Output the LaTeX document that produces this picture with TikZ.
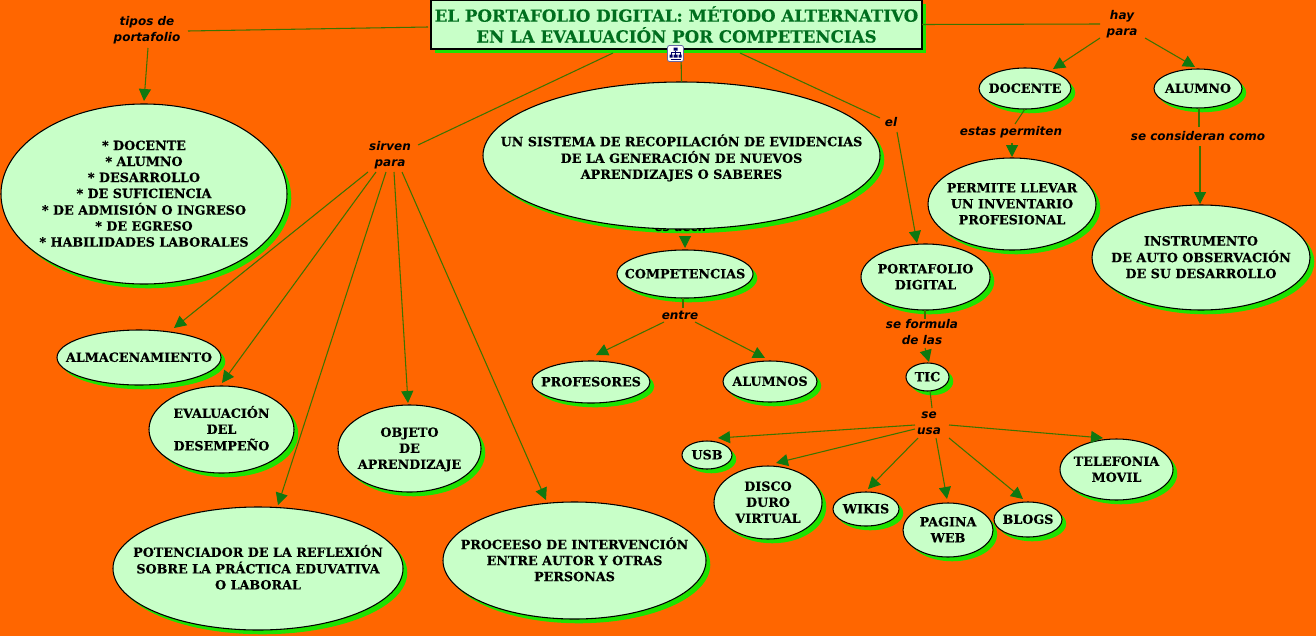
\documentclass[tikz,border=0pt]{standalone}
\usepackage{fontspec}
\setmainfont{DejaVu Serif}[BoldFeatures={FakeBold=0.35}]
\setsansfont{DejaVu Sans}
\usetikzlibrary{shapes.geometric,shadows,arrows.meta}
\definecolor{bgor}{RGB}{255,102,0}
\definecolor{fillg}{RGB}{200,255,200}
\definecolor{shg}{RGB}{30,226,0}
\definecolor{linkg}{RGB}{60,115,0}
\definecolor{tipg}{RGB}{16,120,16}
\definecolor{titleg}{RGB}{0,110,30}
\newcommand{\ovt}[1]{\smash{\makebox[0pt]{\raisebox{-.35em}{\begin{tabular}{@{}c@{}}#1\end{tabular}}}}}
\tikzset{
 x=0.75pt,y=-0.75pt,
 oval/.style={ellipse,draw=black,line width=.8pt,fill=fillg,inner sep=0pt,outer sep=0pt,
   general shadow={shadow xshift=3.2pt,shadow yshift=-3.2pt,fill=shg},
   font=\fontsize{9.55}{12}\selectfont\bfseries},
 sz/.style 2 args={minimum width=#1*0.75pt,minimum height=#2*0.75pt},
 lab/.style={inner sep=1.5pt,align=center,font=\fontsize{9}{11.6}\selectfont\sffamily\bfseries\itshape},
 conn/.style={draw=linkg,line width=.8pt},
 arr/.style={conn,-{Triangle[length=9pt,width=9pt,color=tipg]}},
}
\begin{document}
\begin{tikzpicture}
\path[use as bounding box,fill=bgor] (0,0) rectangle (1316,636);
% title
\node[rectangle,draw=black,line width=.8pt,fill=fillg,sz={491}{49},inner sep=0pt,align=center,
  general shadow={shadow xshift=3.2pt,shadow yshift=-3.2pt,fill=shg},
  text=titleg,font=\fontsize{12.5}{15.6}\selectfont\bfseries] (title) at (676.5,24.5)
  {EL PORTAFOLIO DIGITAL: MÉTODO ALTERNATIVO\\EN LA EVALUACIÓN POR COMPETENCIAS};
% ovals
\node[oval,sz={286}{180}] (tipos) at (144,194) {\ovt{{*} DOCENTE\\{*} ALUMNO\\{*} DESARROLLO\\{*} DE SUFICIENCIA\\{*} DE ADMISIÓN O INGRESO\\{*} DE EGRESO\\{*} HABILIDADES LABORALES}};
\node[oval,sz={397}{147}] (sistema) at (681.5,155.5) {\smash{\raisebox{-1.8pt}{\ovt{UN SISTEMA DE RECOPILACIÓN DE EVIDENCIAS\\DE LA GENERACIÓN DE NUEVOS\\APRENDIZAJES O SABERES}}}};
% label mostly covered by the big oval: only its lowest part shows
\begin{scope}
\clip (640,229.6) rectangle (725,240);
\node[lab] (esdecir) at (681.5,227.5) {es decir};
\end{scope}
\node[oval,sz={136}{48}] (compet) at (685,274) {\ovt{COMPETENCIAS}};
\node[oval,sz={118}{42}] (profes) at (591,382) {\ovt{PROFESORES}};
\node[oval,sz={94}{41}] (alumnos) at (770,381.5) {\ovt{ALUMNOS}};
\node[oval,sz={43}{28}] (tic) at (927.5,377) {\ovt{TIC}};
\node[oval,sz={50}{28}] (usb) at (707,455) {\ovt{USB}};
\node[oval,sz={108}{73}] (disco) at (768,502.5) {\ovt{DISCO\\DURO\\VIRTUAL}};
\node[oval,sz={66}{34}] (wikis) at (866,509) {\ovt{WIKIS}};
\node[oval,sz={90}{54}] (pagina) at (948,530) {\ovt{PAGINA\\WEB}};
\node[oval,sz={68}{35}] (blogs) at (1028,519.5) {\ovt{BLOGS}};
\node[oval,sz={113}{61}] (telef) at (1116.5,469.5) {\ovt{TELEFONIA\\MOVIL}};
\node[oval,sz={129}{66}] (portaf) at (925.5,277) {\ovt{PORTAFOLIO\\DIGITAL}};
\node[oval,sz={92}{41}] (docente) at (1025,88.5) {\ovt{DOCENTE}};
\node[oval,sz={88}{39}] (alumno) at (1198,88.5) {\ovt{ALUMNO}};
\node[oval,sz={168}{92}] (permite) at (1012,204) {\ovt{PERMITE LLEVAR\\UN INVENTARIO\\PROFESIONAL}};
\node[oval,sz={218}{105}] (instr) at (1201,257.5) {\ovt{INSTRUMENTO\\DE AUTO OBSERVACIÓN\\DE SU DESARROLLO}};
\node[oval,sz={164}{55}] (almac) at (139,357.5) {\ovt{ALMACENAMIENTO}};
\node[oval,sz={145}{87}] (evalu) at (221.5,429.5) {\ovt{EVALUACIÓN\\DEL\\DESEMPEÑO}};
\node[oval,sz={143}{87}] (objeto) at (409.5,448.5) {\ovt{OBJETO\\DE\\APRENDIZAJE}};
\node[oval,sz={290}{123}] (potenc) at (258,568.5) {\ovt{POTENCIADOR DE LA REFLEXIÓN\\SOBRE LA PRÁCTICA EDUVATIVA\\O LABORAL}};
\node[oval,sz={263}{117}] (proce) at (574.5,560.5) {\ovt{PROCEESO DE INTERVENCIÓN\\ENTRE AUTOR Y OTRAS\\PERSONAS}};
% linking phrases
\node[lab] (lsirven) at (390,155) {sirven\\para};
\node[lab] (lel) at (891,122) {el};
\node[lab] (ltipos) at (147,30) {tipos de\\portafolio};
\node[lab] (lhay) at (1122,24) {hay\\para};
\node[lab] (lestas) at (1011,132) {estas permiten};
\node[lab] (lcons) at (1198,136) {se consideran como};
\node[lab] (lentre) at (680,315) {entre};
\node[lab] (lform) at (922,332) {se formula\\de las};
\node[lab] (lusa) at (929,423) {se\\usa};
% connectors
\draw[conn] ([shift={(-63.5,28.5)}]title.center) -- ([shift={(28,-10)}]lsirven.center);
\draw[conn] ([shift={(-248.5,2.5)}]title.center) -- ([shift={(41,1)}]ltipos.center);
\draw[arr] ([shift={(1,18)}]ltipos.center) -- ([shift={(0,-93)}]tipos.center);
\draw[conn] ([shift={(245.5,0)}]title.center) -- ([shift={(-22,0)}]lhay.center);
\draw[arr] ([shift={(-22,14)}]lhay.center) -- ([shift={(28,-19.5)}]docente.center);
\draw[arr] ([shift={(23,14)}]lhay.center) -- ([shift={(-3,-21.5)}]alumno.center);
\draw[conn] ([shift={(0,20.5)}]docente.center) -- ([shift={(4,-8)}]lestas.center);
\draw[arr] ([shift={(1,11)}]lestas.center) -- ([shift={(0,-47)}]permite.center);
\draw[conn] ([shift={(1,19.5)}]alumno.center) -- ([shift={(1,-9)}]lcons.center);
\draw[arr] ([shift={(2,10)}]lcons.center) -- ([shift={(-1,-53.5)}]instr.center);
\draw[arr] ([shift={(-22,17)}]lsirven.center) -- ([shift={(35,-29.5)}]almac.center);
\draw[arr] ([shift={(-14,17)}]lsirven.center) -- ([shift={(0.5,-46.5)}]evalu.center);
\draw[arr] ([shift={(-4,17)}]lsirven.center) -- ([shift={(20,-63.5)}]potenc.center);
\draw[arr] ([shift={(4,17)}]lsirven.center) -- ([shift={(-1.5,-45.5)}]objeto.center);
\draw[arr] ([shift={(12,17)}]lsirven.center) -- ([shift={(-28.5,-60.5)}]proce.center);
\draw[conn] ([shift={(4.5,28.5)}]title.center) -- (sistema.north);
\draw[arr] ([shift={(3.5,8.5)}]esdecir.center) -- ([shift={(0,-26)}]compet.center);
\draw[conn] ([shift={(-2,24)}]compet.center) -- ([shift={(3,-7)}]lentre.center);
\draw[arr] ([shift={(-16,7)}]lentre.center) -- ([shift={(5,-27)}]profes.center);
\draw[arr] ([shift={(15,7)}]lentre.center) -- ([shift={(-5,-23.5)}]alumnos.center);
\draw[conn] ([shift={(63.5,28.5)}]title.center) -- ([shift={(-11,-4)}]lel.center);
\draw[arr] ([shift={(6,10)}]lel.center) -- ([shift={(-8.5,-34)}]portaf.center);
\draw[conn] ([shift={(-.5,33)}]portaf.center) -- ([shift={(3,-13)}]lform.center);
\draw[arr] ([shift={(3,16)}]lform.center) -- ([shift={(1.5,-15)}]tic.center);
\draw[conn] ([shift={(2.5,14)}]tic.center) -- ([shift={(3,-15)}]lusa.center);
\draw[arr] ([shift={(-14,2)}]lusa.center) -- ([shift={(11,-17)}]usb.center);
\draw[arr] ([shift={(-14,6)}]lusa.center) -- ([shift={(8,-39.5)}]disco.center);
\draw[arr] ([shift={(-11,15)}]lusa.center) -- ([shift={(2,-20)}]wikis.center);
\draw[arr] ([shift={(7,15)}]lusa.center) -- ([shift={(-1,-31)}]pagina.center);
\draw[arr] ([shift={(20,15)}]lusa.center) -- ([shift={(-5,-20.5)}]blogs.center);
\draw[arr] ([shift={(20,2)}]lusa.center) -- ([shift={(-13.5,-31.5)}]telef.center);
% small concept-map icon
\begin{scope}[shift={(675.5,53.5)}]
\draw[draw=blue!40!black!60,fill=white,line width=.6pt,rounded corners=1.5pt] (-8,-8) rectangle (8,8);
\fill[blue!40!black] (-2,-6) rectangle (2,-3) (-6,1) rectangle (-3,4) (3,1) rectangle (6,4) (-2,1) rectangle (2,4);
\draw[blue!40!black,line width=.5pt] (0,-3) -- (0,1) (-4.5,1) -- (-4.5,-1) -- (4.5,-1) -- (4.5,1) (-5,5.5) -- (5,5.5);
\end{scope}
\end{tikzpicture}
\end{document}
